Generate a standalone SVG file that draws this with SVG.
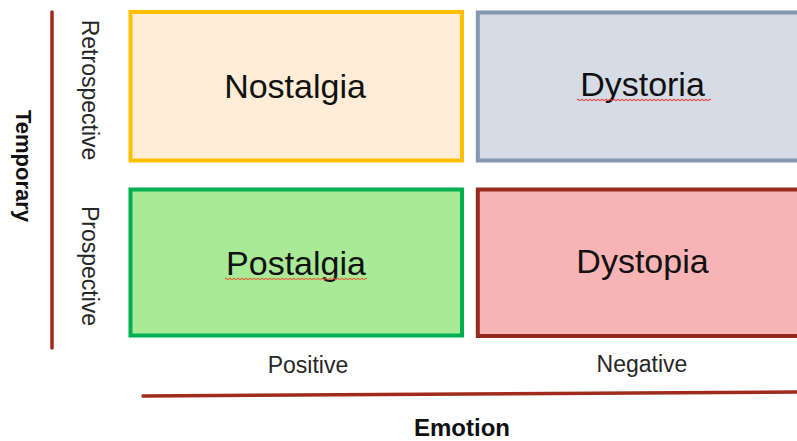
<svg xmlns="http://www.w3.org/2000/svg" width="797" height="441" viewBox="0 0 797 441">
  <style>
    .box { stroke-width: 4; }
    .title { font-family: "Liberation Sans", Arial, sans-serif; font-size: 34px; fill: #111; text-anchor: middle; }
    .label { font-family: "Liberation Sans", Arial, sans-serif; font-size: 23px; fill: #262626; text-anchor: middle; }
    .axis-title { font-family: "Liberation Sans", Arial, sans-serif; font-weight: bold; fill: #111; text-anchor: middle; }
    .axis { stroke: #A02B1C; stroke-width: 3.5; fill: none; stroke-linecap: round; }
    .squiggle { fill: none; stroke-width: 1.1; }
  </style>

  <rect width="797" height="441" fill="#FFFFFF"/>

  <!-- axes -->
  <g id="connectors">
    <line class="axis" x1="52" y1="12" x2="52" y2="348"/>
    <line class="axis" x1="143" y1="396" x2="800" y2="392"/>
  </g>

  <!-- axis titles and tick labels -->
  <g id="temporary-axis">
    <text class="axis-title" font-size="22" transform="translate(16,166) rotate(90)">Temporary</text>
    <text class="label" transform="translate(82,90) rotate(90)">Retrospective</text>
    <text class="label" transform="translate(82,266) rotate(90)">Prospective</text>
  </g>
  <g id="emotion-axis">
    <text class="label" x="308" y="373">Positive</text>
    <text class="label" x="642" y="372">Negative</text>
    <text class="axis-title" font-size="24" x="462" y="436">Emotion</text>
  </g>

  <!-- quadrants -->
  <g id="nostalgia">
    <rect class="box" x="130.5" y="12" width="331.5" height="148.5" fill="#FFEDD7" stroke="#FFC000"/>
    <text class="title" x="295" y="98">Nostalgia</text>
  </g>

  <g id="dystoria">
    <rect class="box" x="477.8" y="12.5" width="330" height="148" fill="#D6DCE5" stroke="#8497B0"/>
    <text class="title" x="642.5" y="96">Dystoria</text>
    <path class="squiggle" stroke="#E8413F" d="M577,100 q1,-1.6 2,0 t2,0 t2,0 t2,0 t2,0 t2,0 t2,0 t2,0 t2,0 t2,0 t2,0 t2,0 t2,0 t2,0 t2,0 t2,0 t2,0 t2,0 t2,0 t2,0 t2,0 t2,0 t2,0 t2,0 t2,0 t2,0 t2,0 t2,0 t2,0 t2,0 t2,0 t2,0 t2,0 t2,0 t2,0 t2,0 t2,0 t2,0 t2,0 t2,0 t2,0 t2,0 t2,0 t2,0 t2,0 t2,0 t2,0 t2,0 t2,0 t2,0 t2,0 t2,0 t2,0 t2,0 t2,0 t2,0 t2,0 t2,0 t2,0 t2,0 t2,0 t2,0 t2,0 t2,0 t2,0 t2,0 t2,0"/>
  </g>

  <g id="postalgia">
    <rect class="box" x="130.5" y="189.5" width="331.5" height="146" fill="#A9EA97" stroke="#00B050"/>
    <text class="title" x="296" y="275">Postalgia</text>
    <path class="squiggle" stroke="#E5603A" d="M225,279 q1,-1.6 2,0 t2,0 t2,0 t2,0 t2,0 t2,0 t2,0 t2,0 t2,0 t2,0 t2,0 t2,0 t2,0 t2,0 t2,0 t2,0 t2,0 t2,0 t2,0 t2,0 t2,0 t2,0 t2,0 t2,0 t2,0 t2,0 t2,0 t2,0 t2,0 t2,0 t2,0 t2,0 t2,0 t2,0 t2,0 t2,0 t2,0 t2,0 t2,0 t2,0 t2,0 t2,0 t2,0 t2,0 t2,0 t2,0 t2,0 t2,0 t2,0 t2,0 t2,0 t2,0 t2,0 t2,0 t2,0 t2,0 t2,0 t2,0 t2,0 t2,0 t2,0 t2,0 t2,0 t2,0 t2,0 t2,0 t2,0 t2,0 t2,0 t2,0 t2,0"/>
  </g>

  <g id="dystopia">
    <rect class="box" x="477.8" y="189.5" width="330" height="146.5" fill="#F8B3B4" stroke="#962A1C"/>
    <text class="title" x="642.5" y="273">Dystopia</text>
  </g>
</svg>
